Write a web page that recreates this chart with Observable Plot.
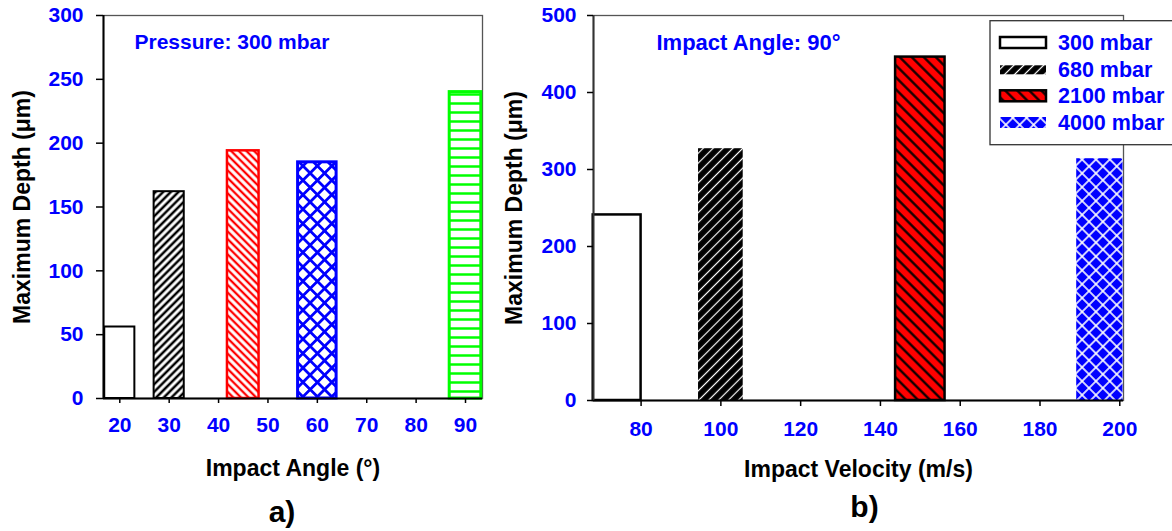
<!DOCTYPE html>
<html>
<head>
<meta charset="utf-8">
<script src="https://cdn.jsdelivr.net/npm/d3@7"></script>
<script src="https://cdn.jsdelivr.net/npm/@observablehq/plot@0.6"></script>
<style>
  body { margin: 0; background: #fff; }
  #wrap { position: relative; width: 1172px; height: 531px; overflow: hidden; display: flex; background: #fff; }
  #wrap svg { overflow: visible; flex: none; }
</style>
</head>
<body>
<div id="wrap"></div>
<script>
// ---------- data: panel a) ----------
const angles = [20, 30, 45, 60, 90];
const angleDepths = [56, 162, 194, 185, 240];
const angleTicks = [20, 30, 40, 50, 60, 70, 80, 90];
const depthTicksA = [0, 50, 100, 150, 200, 250, 300];

// ---------- data: panel b) ----------
const velocities = [74, 100, 150, 195];
const velocityDepths = [241, 327, 446, 314];
const pressures = ["300 mbar", "680 mbar", "2100 mbar", "4000 mbar"];
const velocityTicks = [80, 100, 120, 140, 160, 180, 200];
const depthTicksB = [0, 100, 200, 300, 400, 500];

// ---------- text ----------
const yLabel = "Maximum Depth (μm)";
const xLabelA = "Impact Angle (°)";
const xLabelB = "Impact Velocity (m/s)";
const noteA = "Pressure: 300 mbar";
const noteB = "Impact Angle: 90°";

// ---------- styles ----------
const FONT = "'Liberation Sans', Arial, Helvetica, sans-serif";
const BLUE = "#0000ff", RED = "#ff0000", GREEN = "#00ff00";

const stylesA = [
  {fill: "white", stroke: "black", sw: 2, hw: 3.05},
  {fill: "url(#pa30)", stroke: "black", sw: 2, hw: 3.05},
  {fill: "url(#pa45)", stroke: RED, sw: 2.5, hw: 3.2},
  {fill: "url(#pa60)", stroke: BLUE, sw: 3, hw: 3.9},
  {fill: "url(#pa90)", stroke: GREEN, sw: 3, hw: 3.2}
];
const stylesB = [
  {fill: "white", stroke: "black", sw: 2.5, hw: 6},
  {fill: "url(#pb680)", stroke: "none", sw: 0, hw: 5.6},
  {fill: "url(#pb2100)", stroke: "black", sw: 2.5, hw: 6.2},
  {fill: "url(#pb4000)", stroke: "none", sw: 0, hw: 5.8}
];

function hatch(id, s, angle, bg, fg, w) {
  return `<pattern id="${id}" width="${s}" height="${s}" patternUnits="userSpaceOnUse" patternTransform="rotate(${angle})">
    <rect width="${s}" height="${s}" fill="${bg}"/>
    <line x1="${s/2}" y1="-1" x2="${s/2}" y2="${s+1}" stroke="${fg}" stroke-width="${w}"/></pattern>`;
}
function cross(id, s, bg, fg, w) {
  return `<pattern id="${id}" width="${s}" height="${s}" patternUnits="userSpaceOnUse" patternTransform="rotate(45)">
    <rect width="${s}" height="${s}" fill="${bg}"/>
    <line x1="${s/2}" y1="-1" x2="${s/2}" y2="${s+1}" stroke="${fg}" stroke-width="${w}"/>
    <line x1="-1" y1="${s/2}" x2="${s+1}" y2="${s/2}" stroke="${fg}" stroke-width="${w}"/></pattern>`;
}
function horiz(id, s, bg, fg, w) {
  return `<pattern id="${id}" width="${s}" height="${s}" patternUnits="userSpaceOnUse">
    <rect width="${s}" height="${s}" fill="${bg}"/>
    <line x1="-1" y1="${s/2}" x2="${s+1}" y2="${s/2}" stroke="${fg}" stroke-width="${w}"/></pattern>`;
}

const defsA = hatch("pa30", 5.4, 45, "white", "black", 2.5) +
              hatch("pa45", 5.4, -45, "white", RED, 2.3) +
              cross("pa60", 10.2, "white", BLUE, 2.8) +
              horiz("pa90", 9, "white", GREEN, 2.5);
const defsB = hatch("pb680", 7, 45, "black", "white", 1.2) +
              hatch("pb2100", 8.5, -45, RED, "black", 2.2) +
              cross("pb4000", 9.8, BLUE, "white", 1.6);

const baseStyle = {fontFamily: FONT, fontWeight: "bold", background: "white", overflow: "visible"};

// ---------- panel a ----------
const dataA = angles.map((a, i) => ({x: a, y: angleDepths[i], ...stylesA[i]}));
const xDomA = [16.7, 93.44];
const plotA = Plot.plot({
  width: 500, height: 531,
  marginLeft: 103, marginRight: 18, marginTop: 15, marginBottom: 133,
  style: baseStyle,
  x: {domain: xDomA},
  y: {domain: [0, 300]},
  marks: [
    Plot.frame({stroke: "#555", strokeWidth: 1.3}),
    ...dataA.map(d => Plot.rect([d], {
      x1: v => v.x - v.hw, x2: v => v.x + v.hw, y1: 0, y2: "y",
      fill: d.fill, stroke: d.stroke, strokeWidth: d.sw
    })),
    Plot.ruleY([0], {stroke: "black", strokeWidth: 2}),
    Plot.ruleX([xDomA[0]], {stroke: "black", strokeWidth: 2}),
    Plot.axisY({ticks: depthTicksA, tickSize: 7, tickPadding: 13, fontSize: 21, fill: BLUE, stroke: "black", strokeWidth: 1.5, label: null}),
    Plot.axisX({ticks: angleTicks, tickSize: 5, tickPadding: 14, fontSize: 21, fill: BLUE, stroke: "black", strokeWidth: 1.5, label: null}),
    Plot.text([noteA], {text: d => d, frameAnchor: "top-left", textAnchor: "start", lineAnchor: "middle", dx: 31, dy: 27, fontSize: 21, fill: BLUE}),
    Plot.text([xLabelA], {text: d => d, frameAnchor: "bottom", lineAnchor: "middle", dy: 70.5, fontSize: 23, fill: "black"}),
    Plot.text(["a)"], {text: d => d, frameAnchor: "bottom", lineAnchor: "middle", dx: -11, dy: 114, fontSize: 30, fill: "black"}),
    Plot.text([yLabel], {text: d => d, frameAnchor: "left", textAnchor: "middle", rotate: -90, lineAnchor: "middle", dx: -81, fontSize: 23, fill: "black"})
  ]
});
d3.select(plotA).insert("defs", ":first-child").html(defsA);

// ---------- panel b ----------
const dataB = velocities.map((v, i) => ({x: v, y: velocityDepths[i], name: pressures[i], ...stylesB[i]}));
const xDomB = [68.07, 200.93];
const plotB = Plot.plot({
  width: 672, height: 531,
  marginLeft: 93, marginRight: 49, marginTop: 15, marginBottom: 131,
  style: baseStyle,
  x: {domain: xDomB},
  y: {domain: [0, 500]},
  marks: [
    Plot.frame({stroke: "#555", strokeWidth: 1.3}),
    ...dataB.map(d => Plot.rect([d], {
      x1: v => v.x - v.hw, x2: v => v.x + v.hw, y1: 0, y2: "y",
      fill: d.fill, stroke: d.stroke, strokeWidth: d.sw
    })),
    Plot.ruleY([0], {stroke: "black", strokeWidth: 2}),
    Plot.ruleX([xDomB[0]], {stroke: "#333", strokeWidth: 2}),
    Plot.axisY({ticks: depthTicksB, tickSize: 6, tickPadding: 11, fontSize: 21, fill: BLUE, stroke: "black", strokeWidth: 1.5, label: null}),
    Plot.axisX({ticks: velocityTicks, tickSize: 6, tickPadding: 15, fontSize: 21, fill: BLUE, stroke: "black", strokeWidth: 1.5, label: null}),
    Plot.text([noteB], {text: d => d, frameAnchor: "top-left", textAnchor: "start", lineAnchor: "middle", dx: 63, dy: 27, fontSize: 22, fill: BLUE}),
    Plot.text([xLabelB], {text: d => d, frameAnchor: "bottom", lineAnchor: "middle", dy: 69, fontSize: 23, fill: "black"}),
    Plot.text(["b)"], {text: d => d, frameAnchor: "bottom", lineAnchor: "middle", dx: 6, dy: 107, fontSize: 30, fill: "black"}),
    Plot.text([yLabel], {text: d => d, frameAnchor: "left", textAnchor: "middle", rotate: -90, lineAnchor: "middle", dx: -79, fontSize: 23, fill: "black"})
  ]
});
d3.select(plotB).insert("defs", ":first-child").html(defsB);

// legend for panel b (drawn on top, overlapping the frame like the original)
const lg = d3.select(plotB).append("g").attr("class", "legend").attr("text-anchor", "start");
lg.append("rect").attr("x", 490).attr("y", 20.7).attr("width", 200).attr("height", 124)
  .attr("fill", "white").attr("stroke", "#333").attr("stroke-width", 1.3);
const rowBase = [50, 77.3, 103.3, 130];
dataB.forEach((d, i) => {
  const h = i === 1 ? 9 : 11;
  lg.append("rect").attr("x", 500).attr("y", rowBase[i] - 7.5 - h / 2).attr("width", 46).attr("height", h)
    .attr("fill", d.fill).attr("stroke", d.stroke).attr("stroke-width", d.sw ? 2.5 : 0);
  lg.append("text").attr("x", 558).attr("y", rowBase[i]).attr("fill", BLUE).attr("text-anchor", "start")
    .attr("font-size", 21.5).attr("font-weight", "bold").text(d.name);
});

document.getElementById("wrap").append(plotA, plotB);
</script>
</body>
</html>
